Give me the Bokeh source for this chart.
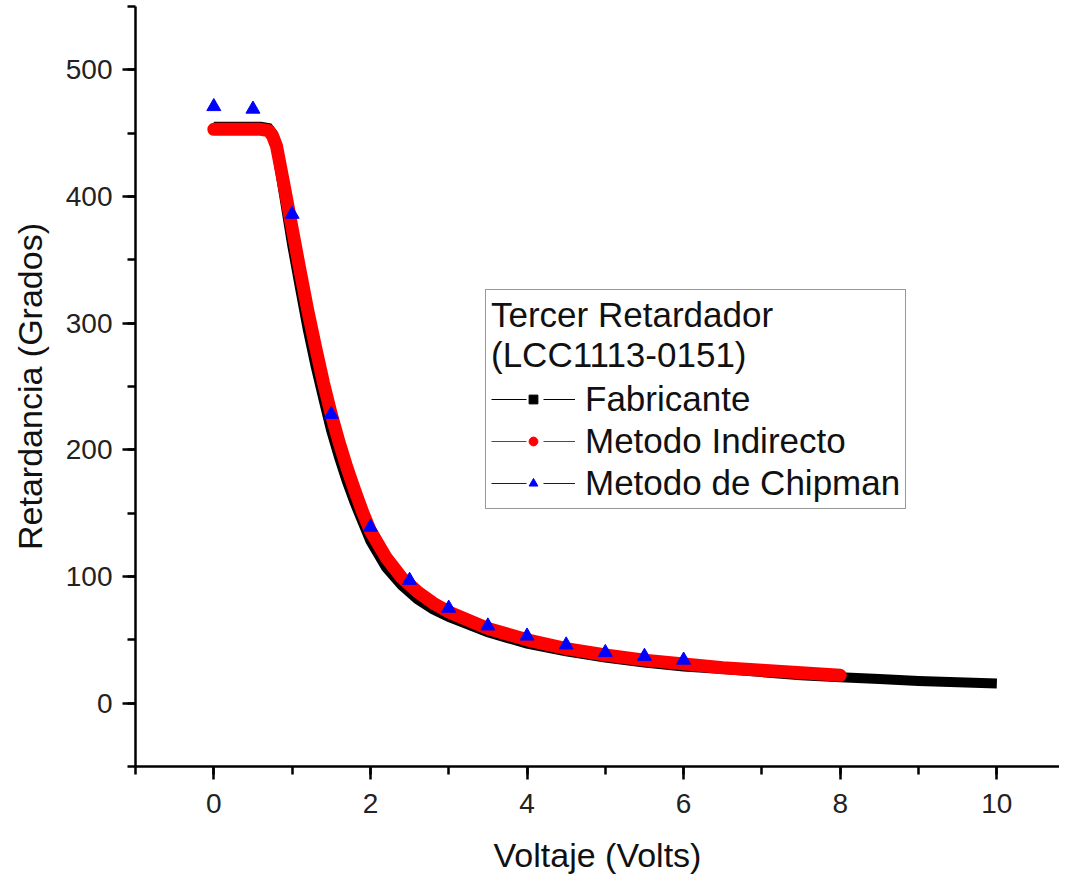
from bokeh.plotting import figure
from bokeh.models import Range1d, Legend, LegendItem, SingleIntervalTicker
from bokeh.embed import file_html
from bokeh.resources import INLINE

# ---- data ----
fab_x = [0, 0.2, 0.4, 0.6, 0.7, 0.75, 0.8, 0.9, 1.0, 1.1, 1.2, 1.3, 1.4, 1.5, 1.6, 1.7,
         1.8, 1.9, 2.0, 2.2, 2.4, 2.6, 2.8, 3.0, 3.5, 4.0, 4.5, 5.0, 5.5, 6.0, 6.5, 7.0,
         7.5, 8.0, 8.5, 9.0, 9.5, 10.0]
fab_y = [455, 455, 455, 455, 454, 450, 438, 400, 362, 328, 295, 266, 240, 215, 194, 175,
         158, 143, 128, 107, 93, 82, 74, 68, 56, 47, 41, 36, 32, 29, 27, 24.5,
         22, 20.5, 19, 17.5, 16.5, 15.5]

ind_x = [0, 0.2, 0.4, 0.6, 0.7, 0.75, 0.8, 0.9, 1.0, 1.1, 1.2, 1.3, 1.4, 1.5, 1.6, 1.7,
         1.8, 1.9, 2.0, 2.2, 2.4, 2.6, 2.8, 3.0, 3.5, 4.0, 4.5, 5.0, 5.5, 6.0, 6.5, 7.0,
         7.5, 8.0]
ind_y = [453, 453, 453, 453, 452, 448, 440, 408, 375, 342, 310, 281, 253, 228, 206, 186,
         168, 151, 136, 115, 99, 88, 79, 72, 59, 50, 43, 38, 34, 31, 28, 26,
         24, 22]

chip_x = [0, 0.5, 1.0, 1.5, 2.0, 2.5, 3.0, 3.5, 4.0, 4.5, 5.0, 5.5, 6.0]
chip_y = [471, 469, 386, 228, 139, 97, 75, 61, 53, 46, 40, 37, 34]

legend_title = "Tercer Retardador\n(LCC1113-0151)"
labels = ["Fabricante", "Metodo Indirecto", "Metodo de Chipman"]

FONT = "Liberation Sans"
NAN = [float("nan")]

p = figure(width=1059, height=876, output_backend="svg", toolbar_location=None,
           x_range=Range1d(-1, 10.8), y_range=Range1d(-50, 550),
           min_border_left=135, min_border_right=0, min_border_top=6, min_border_bottom=103)
p.outline_line_color = None
p.xgrid.visible = False
p.ygrid.visible = False
p.background_fill_color = "white"
p.border_fill_color = "white"

for ax in (p.xaxis, p.yaxis):
    ax.axis_line_width = 2.5
    ax.axis_line_color = "black"
    ax.major_tick_line_width = 2.5
    ax.minor_tick_line_width = 2.5
    ax.major_tick_line_color = "black"
    ax.minor_tick_line_color = "black"
    ax.major_tick_in = 0
    ax.minor_tick_in = 0
    ax.major_tick_out = 13
    ax.minor_tick_out = 8
    ax.major_label_text_font = FONT
    ax.major_label_text_font_size = "28px"
    ax.major_label_text_color = "#222222"
    ax.axis_label_text_font = FONT
    ax.axis_label_text_font_size = "34px"
    ax.axis_label_text_font_style = "normal"
    ax.axis_label_text_color = "#111111"

p.xaxis.ticker = SingleIntervalTicker(interval=2, num_minor_ticks=2)
p.yaxis.ticker = SingleIntervalTicker(interval=100, num_minor_ticks=2)
p.xaxis.major_label_standoff = 14
p.yaxis.major_label_standoff = 10
p.xaxis.axis_label = "Voltaje (Volts)"
p.yaxis.axis_label = "Retardancia (Grados)"
p.xaxis.axis_label_standoff = 20
p.yaxis.axis_label_standoff = 14

# data renderers
p.line(fab_x, fab_y, line_color="black", line_width=10, line_join="miter")
p.line(ind_x, ind_y, line_color="red", line_width=13, line_cap="round", line_join="round")
p.scatter(chip_x, chip_y, marker="triangle", size=14, fill_color="blue", line_color="blue")

# legend-only renderers (no visible data)
def legend_rs(color, marker):
    l = p.line(x=NAN, y=NAN, line_color=color, line_width=1.2, line_dash="35 17")
    m = p.scatter(x=NAN, y=NAN, marker=marker, size=9, fill_color=color, line_color=color)
    return [l, m]

items = [
    LegendItem(label=labels[0], renderers=legend_rs("black", "square")),
    LegendItem(label=labels[1], renderers=legend_rs("red", "circle")),
    LegendItem(label=labels[2], renderers=legend_rs("blue", "triangle")),
]
legend = Legend(items=items, location=(350, 257), title=legend_title,
                title_text_font=FONT, title_text_font_size="35px", title_text_font_style="normal",
                title_text_color="#111111", title_standoff=4,
                label_text_font=FONT, label_text_font_size="35px", label_text_color="#111111",
                glyph_width=84, glyph_height=22, label_height=22, label_standoff=10,
                spacing=2, padding=5, margin=0,
                border_line_color="#333333", border_line_width=1.5,
                background_fill_color="white", background_fill_alpha=1.0)
p.add_layout(legend, "center")

open("out.html", "w").write(file_html(p, INLINE))
